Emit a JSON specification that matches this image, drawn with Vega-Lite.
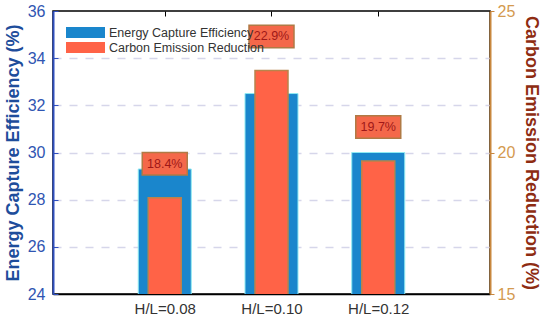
{
  "$schema": "https://vega.github.io/schema/vega-lite/v6.json",
  "width": 437,
  "height": 283,
  "autosize": {"type": "none"},
  "padding": {"left": 53, "top": 11, "right": 60, "bottom": 28},
  "background": "white",
  "config": {"font": "Liberation Sans", "view": {"stroke": "#000", "strokeWidth": 1.5}},
  "data": {"values": [
    {"hl": 0.08, "series": "Energy Capture Efficiency", "value": 29.3},
    {"hl": 0.10, "series": "Energy Capture Efficiency", "value": 32.5},
    {"hl": 0.12, "series": "Energy Capture Efficiency", "value": 30.0},
    {"hl": 0.08, "series": "Carbon Emission Reduction", "value": 18.4, "label": "18.4%"},
    {"hl": 0.10, "series": "Carbon Emission Reduction", "value": 22.9, "label": "22.9%"},
    {"hl": 0.12, "series": "Carbon Emission Reduction", "value": 19.7, "label": "19.7%"}
  ]},
  "layer": [
    {
      "transform": [{"filter": "datum.series === 'Energy Capture Efficiency'"}],
      "mark": {"type": "bar", "size": 53, "clip": true, "stroke": "#8FEAF2", "strokeWidth": 1},
      "encoding": {
        "x": {"field": "hl", "type": "quantitative", "scale": {"domain": [0.06, 0.14], "nice": false, "zero": false},
          "axis": {"orient": "bottom", "values": [0.08, 0.1, 0.12], "labelExpr": "'H/L=' + format(datum.value, '.2f')",
            "labelFontSize": 15, "labelColor": "#333", "domainColor": "#000", "domainWidth": 1.5, "tickColor": "#000",
            "tickSize": -5, "labelPadding": 12, "title": null, "grid": false}},
        "y": {"field": "value", "type": "quantitative", "scale": {"domain": [24, 36], "nice": false, "zero": false},
          "axis": {"orient": "left", "values": [24, 26, 28, 30, 32, 34, 36], "title": "Energy Capture Efficiency (%)",
            "titleColor": "#1E4D9B", "titleFontSize": 18, "titleFontWeight": "bold", "labelColor": "#2F55B2",
            "labelFontSize": 16, "domainColor": "#2F4FBF", "domainWidth": 2, "tickColor": "#2F4FBF", "tickSize": -5,
            "labelPadding": 13, "titlePadding": 5, "grid": true, "gridColor": "#D6D6EA", "gridDash": [8, 8], "gridWidth": 1.5,
            "gridOpacity": {"condition": {"test": "datum.value == 24 || datum.value == 36", "value": 0}, "value": 1}}},
        "color": {"field": "series", "type": "nominal",
          "scale": {"domain": ["Energy Capture Efficiency", "Carbon Emission Reduction"], "range": ["#1A86CC", "#FF6347"]},
          "legend": {"orient": "none", "legendX": 13, "legendY": 14, "title": null, "symbolType": "M-1,-0.28H1V0.28H-1Z",
            "symbolSize": 1521, "clipHeight": 15, "labelFontSize": 12.5, "labelColor": "#333", "rowPadding": 0,
            "symbolStrokeWidth": 0, "labelOffset": 4, "symbolOpacity": 1, "zindex": 2}}
      }
    },
    {
      "transform": [{"filter": "datum.series === 'Carbon Emission Reduction'"}],
      "encoding": {
        "x": {"field": "hl", "type": "quantitative",
          "axis": {"orient": "top", "values": [0.08, 0.1, 0.12], "labels": false, "domain": false, "tickColor": "#000",
            "tickSize": -5, "title": null, "grid": false}},
        "y": {"field": "value", "type": "quantitative", "scale": {"domain": [15, 25], "nice": false, "zero": false},
          "axis": {"orient": "right", "values": [15, 20, 25], "title": "Carbon Emission Reduction (%)",
            "titleColor": "#8E2C12", "titleFontSize": 18, "titleFontWeight": "bold", "labelColor": "#D49A4F",
            "labelFontSize": 16, "domainColor": "#C8873E", "domainWidth": 2, "tickColor": "#C8873E", "tickSize": 4,
            "labelPadding": 3, "titlePadding": 7, "grid": false}}
      },
      "layer": [
        {
          "mark": {"type": "bar", "size": 33, "clip": true, "stroke": "#B8844C", "strokeWidth": 1.5},
          "encoding": {"color": {"field": "series", "type": "nominal"}}
        },
        {
          "mark": {"type": "point", "shape": "M-1,-0.5H1V0.5H-1Z", "size": 2025, "filled": true, "fill": "#F4684A",
            "stroke": "#B07A45", "strokeWidth": 1.5, "opacity": 1, "yOffset": -34}
        },
        {
          "mark": {"type": "text", "yOffset": -34, "color": "#A01818", "fontSize": 12.5},
          "encoding": {"text": {"field": "label", "type": "nominal"}}
        }
      ]
    }
  ],
  "resolve": {"scale": {"y": "independent"}, "axis": {"x": "independent", "y": "independent"}}
}
